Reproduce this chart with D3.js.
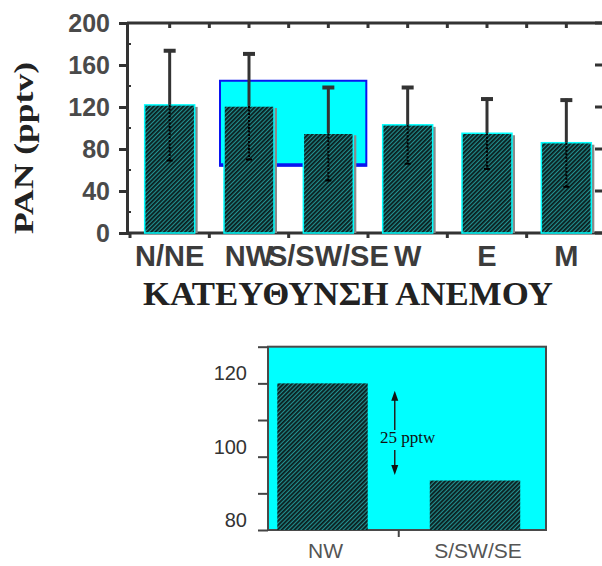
<!DOCTYPE html>
<html>
<head>
<meta charset="utf-8">
<script src="https://cdn.jsdelivr.net/npm/d3@7"></script>
<style>
  html, body { margin: 0; padding: 0; background: #ffffff; }
  svg { display: block; }
</style>
</head>
<body>
<svg id="chart" width="602" height="566"></svg>
<script>
// ---------- data ----------
const categories = ["N/NE", "NW", "S/SW/SE", "W", "E", "M"];
const meanValues = [122, 121, 95, 103, 95, 86];
const sdValues   = [53, 51, 45, 37, 34, 42];
const yTickValues = [0, 40, 80, 120, 160, 200];
const yTitle = "PAN (pptv)";
const xTitle = "ΚΑΤΕΥΘΥΝΣΗ ΑΝΕΜΟΥ";
// highlighted group (NW + S/SW/SE) and its value range
const highlightRange = [64, 145];

const insetCategories = ["NW", "S/SW/SE"];
const insetValues = [120, 93.5];
const insetTickValues = [80, 100, 120];
const insetArrow = [118, 95];
const insetLabel = "25 pptw";

// ---------- setup ----------
const svg = d3.select("#chart");
const ink = "#333333";

const defs = svg.append("defs");
const pat = defs.append("pattern")
  .attr("id", "hatch").attr("patternUnits", "userSpaceOnUse")
  .attr("width", 3).attr("height", 3)
  .attr("patternTransform", "rotate(45)");
pat.append("rect").attr("width", 3).attr("height", 3).attr("fill", "#229090");
pat.append("rect").attr("width", 1.8).attr("height", 3).attr("fill", "#0a1c1c");

// ---------- main chart ----------
const axisX = 127, plotRight = 604;
const y = d3.scaleLinear().domain([0, 200]).range([233, 23]);
const x = d3.scaleBand().domain(categories).range([130, 606]).paddingInner(0.37).paddingOuter(0.185);
const step = x.step();
const xHalf = d3.range(0, categories.length * 2 + 1).map(i => 130 + i * step / 2);

const main = svg.append("g");

// highlight box
const hx0 = x("NW") - 4, hx1 = x("S/SW/SE") + x.bandwidth() + 13;
main.append("rect")
  .attr("x", hx0).attr("y", y(highlightRange[1]))
  .attr("width", hx1 - hx0).attr("height", y(highlightRange[0]) - y(highlightRange[1]))
  .attr("fill", "#00ffff").attr("stroke", "#0a14f0").attr("stroke-width", 2);
main.append("line")
  .attr("x1", hx0).attr("x2", hx1)
  .attr("y1", y(highlightRange[0]) - 1).attr("y2", y(highlightRange[0]) - 1)
  .attr("stroke", "#0a14f0").attr("stroke-width", 3);

// axes frame
main.append("line").attr("x1", axisX).attr("x2", plotRight).attr("y1", y(200)).attr("y2", y(200))
  .attr("stroke", ink).attr("stroke-width", 3);
main.append("line").attr("x1", axisX).attr("x2", plotRight).attr("y1", y(0)).attr("y2", y(0))
  .attr("stroke", ink).attr("stroke-width", 3);
main.append("line").attr("x1", plotRight).attr("x2", plotRight).attr("y1", y(200)).attr("y2", y(0))
  .attr("stroke", ink).attr("stroke-width", 3);

// left axis
const yAxis = d3.axisLeft(y).tickValues(yTickValues).tickSize(8).tickPadding(9);
const gy = main.append("g").attr("transform", `translate(${axisX},0)`).call(yAxis);
gy.select(".domain").attr("stroke", ink).attr("stroke-width", 3);
gy.selectAll(".tick line").attr("stroke", ink).attr("stroke-width", 3);
gy.selectAll(".tick text")
  .attr("font-family", "Liberation Sans, Arial, sans-serif")
  .attr("font-weight", "bold").attr("font-size", 25).attr("fill", "#4a4a4a");
// minor ticks inside
const minor = d3.range(20, 200, 40);
main.selectAll(".minorL").data(minor).enter().append("line")
  .attr("x1", axisX).attr("x2", axisX + 4).attr("y1", d => y(d)).attr("y2", d => y(d))
  .attr("stroke", ink).attr("stroke-width", 2);
// right axis inward ticks
main.selectAll(".tickR").data(yTickValues).enter().append("line")
  .attr("x1", plotRight - 9).attr("x2", plotRight).attr("y1", d => y(d)).attr("y2", d => y(d))
  .attr("stroke", ink).attr("stroke-width", 3);
// top ticks (inward) and bottom ticks (outward)
main.selectAll(".tickT").data(xHalf.slice(1)).enter().append("line")
  .attr("x1", d => d).attr("x2", d => d).attr("y1", y(200)).attr("y2", y(200) + 5)
  .attr("stroke", ink).attr("stroke-width", 3);
main.selectAll(".tickB").data(xHalf.filter((d, i) => i % 2 === 0)).enter().append("line")
  .attr("x1", d => d).attr("x2", d => d).attr("y1", y(0)).attr("y2", y(0) + 5)
  .attr("stroke", ink).attr("stroke-width", 3);

// bars
const barData = categories.map((c, i) => ({ c, m: meanValues[i], s: sdValues[i] }));
main.selectAll(".shadow").data(barData).enter().append("rect")
  .attr("x", d => x(d.c) + x.bandwidth()).attr("y", d => y(d.m) + 2)
  .attr("width", 3).attr("height", d => y(0) - y(d.m) - 2)
  .attr("fill", "#8a8a8a");
main.selectAll(".bar").data(barData).enter().append("rect")
  .attr("x", d => x(d.c)).attr("y", d => y(d.m))
  .attr("width", x.bandwidth()).attr("height", d => y(0) - y(d.m))
  .attr("fill", "url(#hatch)").attr("stroke", "#00ffff").attr("stroke-width", 1.5);

// error bars
const cx = d => x(d.c) + x.bandwidth() / 2;
main.selectAll(".errU").data(barData).enter().append("line")
  .attr("x1", cx).attr("x2", cx).attr("y1", d => y(d.m)).attr("y2", d => y(d.m + d.s))
  .attr("stroke", ink).attr("stroke-width", 3);
main.selectAll(".capU").data(barData).enter().append("line")
  .attr("x1", d => cx(d) - 6).attr("x2", d => cx(d) + 6)
  .attr("y1", d => y(d.m + d.s) + 1.5).attr("y2", d => y(d.m + d.s) + 1.5)
  .attr("stroke", ink).attr("stroke-width", 4);
main.selectAll(".errL").data(barData).enter().append("line")
  .attr("x1", cx).attr("x2", cx).attr("y1", d => y(d.m)).attr("y2", d => y(d.m - d.s))
  .attr("stroke", "#000").attr("stroke-width", 2).attr("stroke-dasharray", "2,1.5");
main.selectAll(".capL").data(barData).enter().append("line")
  .attr("x1", d => cx(d) - 3).attr("x2", d => cx(d) + 3)
  .attr("y1", d => y(d.m - d.s)).attr("y2", d => y(d.m - d.s))
  .attr("stroke", "#000").attr("stroke-width", 2);

// category labels
main.selectAll(".xlab").data(categories).enter().append("text")
  .attr("x", d => x(d) + x.bandwidth() / 2).attr("y", 266)
  .attr("text-anchor", "middle")
  .attr("font-family", "Liberation Sans, Arial, sans-serif")
  .attr("font-weight", "bold").attr("font-size", 29).attr("fill", "#3c3c3c")
  .text(d => d);

// titles
main.append("text")
  .attr("x", 348).attr("y", 305).attr("text-anchor", "middle")
  .attr("font-family", "Liberation Serif, Times New Roman, serif")
  .attr("font-weight", "bold").attr("font-size", 33).attr("fill", "#222")
  .attr("textLength", 410).attr("lengthAdjust", "spacingAndGlyphs")
  .text(xTitle);
main.append("text")
  .attr("transform", "translate(33,148) rotate(-90)").attr("text-anchor", "middle")
  .attr("font-family", "Liberation Serif, Times New Roman, serif")
  .attr("font-weight", "bold").attr("font-size", 27).attr("fill", "#222")
  .attr("textLength", 172).attr("lengthAdjust", "spacingAndGlyphs")
  .text(yTitle);

// ---------- inset chart ----------
const boxL = 268, boxR = 546;
const iy = d3.scaleLinear().domain([80, 130]).range([530, 346.7]);
const ix = d3.scaleBand().domain(insetCategories).range([246.25, 551.25]).paddingInner(0.407).paddingOuter(0.2035);
const inset = svg.append("g");

inset.append("rect")
  .attr("x", boxL).attr("y", iy(130)).attr("width", boxR - boxL).attr("height", iy(80) - iy(130))
  .attr("fill", "#00ffff").attr("stroke", "#4a4a4a").attr("stroke-width", 2);

const insetData = insetCategories.map((c, i) => ({ c, v: insetValues[i] }));
inset.selectAll(".ibar").data(insetData).enter().append("rect")
  .attr("x", d => ix(d.c)).attr("y", d => iy(d.v))
  .attr("width", ix.bandwidth()).attr("height", d => iy(80) - iy(d.v))
  .attr("fill", "url(#hatch)");

// left ticks
const iAxis = d3.axisLeft(iy).tickValues(d3.range(80, 131, 10)).tickSize(10).tickFormat("");
const giy = inset.append("g").attr("transform", `translate(${boxL},0)`).call(iAxis);
giy.select(".domain").remove();
giy.selectAll(".tick line").attr("stroke", "#444").attr("stroke-width", 2);
inset.selectAll(".iylab").data(insetTickValues).enter().append("text")
  .attr("x", 247).attr("y", d => iy(d) - 3)
  .attr("text-anchor", "end")
  .attr("font-family", "Liberation Sans, Arial, sans-serif")
  .attr("font-size", 20).attr("fill", "#333")
  .text(d => d);
// bottom middle tick
inset.append("line")
  .attr("x1", ix.range()[0] + ix.step()).attr("x2", ix.range()[0] + ix.step())
  .attr("y1", iy(80)).attr("y2", iy(80) + 7)
  .attr("stroke", "#444").attr("stroke-width", 2);
inset.selectAll(".ixlab").data(insetCategories).enter().append("text")
  .attr("x", d => ix(d) + ix.bandwidth() / 2 + 3).attr("y", 558)
  .attr("text-anchor", "middle")
  .attr("font-family", "Liberation Sans, Arial, sans-serif")
  .attr("font-size", 21).attr("fill", "#555")
  .text(d => d);

// double arrow with label
const ax = ix.range()[0] + ix.step() - 4;
const textY = 446;
inset.append("line").attr("x1", ax).attr("x2", ax)
  .attr("y1", iy(insetArrow[0]) + 8).attr("y2", textY - 16)
  .attr("stroke", "#222").attr("stroke-width", 1.5);
inset.append("line").attr("x1", ax).attr("x2", ax)
  .attr("y1", textY + 4).attr("y2", iy(insetArrow[1]) - 8)
  .attr("stroke", "#222").attr("stroke-width", 1.5);
inset.append("path")
  .attr("d", `M${ax},${iy(insetArrow[0])} l-3.5,10 l7,0 Z`).attr("fill", "#111");
inset.append("path")
  .attr("d", `M${ax},${iy(insetArrow[1])} l-3.5,-10 l7,0 Z`).attr("fill", "#111");
inset.append("text")
  .attr("x", 380).attr("y", textY - 3)
  .attr("font-family", "Liberation Serif, Times New Roman, serif")
  .attr("font-size", 17).attr("fill", "#111")
  .text(insetLabel);
</script>
</body>
</html>
